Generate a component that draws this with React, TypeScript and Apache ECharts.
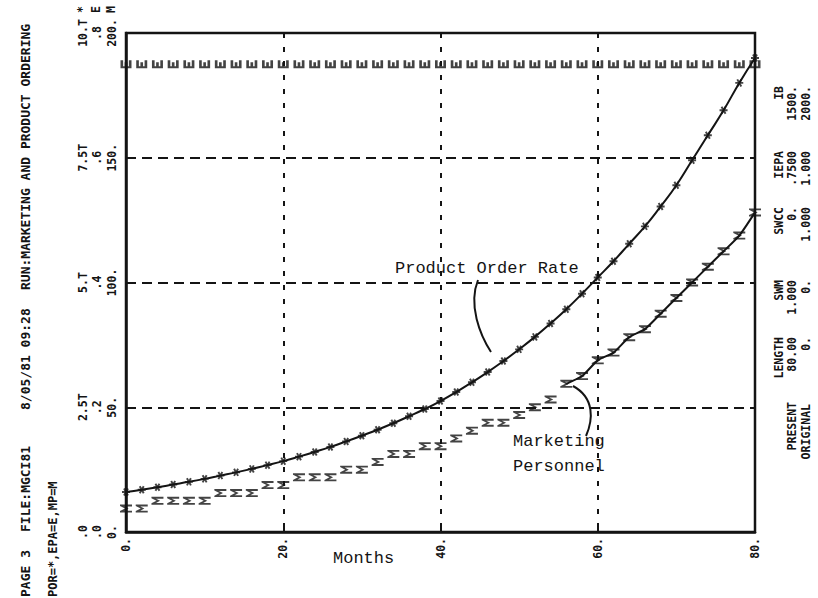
import React, { useEffect, useRef } from "react";
import * as echarts from "echarts";

// ---- data ----
const months = [0, 2, 4, 6, 8, 10, 12, 14, 16, 18, 20, 22, 24, 26, 28, 30, 32, 34, 36, 38, 40, 42, 44, 46, 48, 50, 52, 54, 56, 58, 60, 62, 64, 66, 68, 70, 72, 74, 76, 78, 80];
// Product Order Rate (POR, "*"), scale 0 .. 10.T
const porValues = [800, 845, 895, 950, 1005, 1065, 1130, 1195, 1265, 1340, 1420, 1510, 1605, 1705, 1815, 1930, 2050, 2180, 2320, 2465, 2625, 2805, 3000, 3205, 3425, 3660, 3910, 4180, 4465, 4775, 5100, 5425, 5775, 6125, 6525, 6950, 7450, 7950, 8450, 9000, 9500];
// Marketing Personnel (MP, "M"), scale 0 .. 200
const mpValues = [9.4, 9.4, 12.5, 12.5, 12.5, 12.5, 15.6, 15.6, 15.6, 18.8, 18.8, 21.9, 21.9, 21.9, 25.0, 25.0, 28.1, 31.3, 31.3, 34.4, 34.4, 37.5, 40.6, 43.8, 43.8, 46.9, 50.0, 53.1, 59.4, 62.5, 68.8, 71.9, 78.1, 81.3, 87.5, 93.8, 100.0, 106.3, 112.5, 118.8, 128.1];
// EPA ("E"), scale 0 .. .8
const epaValues = [0.75, 0.75, 0.75, 0.75, 0.75, 0.75, 0.75, 0.75, 0.75, 0.75, 0.75, 0.75, 0.75, 0.75, 0.75, 0.75, 0.75, 0.75, 0.75, 0.75, 0.75, 0.75, 0.75, 0.75, 0.75, 0.75, 0.75, 0.75, 0.75, 0.75, 0.75, 0.75, 0.75, 0.75, 0.75, 0.75, 0.75, 0.75, 0.75, 0.75, 0.75];
// first month from which the hand-drawn MP line is traced
const mpLineStartMonth = 56;

const monthTickLabels = ["0.", "20.", "40.", "60.", "80."];
const mpTickLabels = ["0.", "50.", "100.", "150.", "200."];
const epaTickLabels = [".0", ".2", ".4", ".6", ".8"];
const porTickLabels = [".0", "2.5T", "5.T", "7.5T", "10.T"];
const scaleSymbols = ["*", "E", "M"];

const tableHeaders = ["IB", "IEPA", "SWCC", "SWM", "LENGTH"];
const tablePresent = ["1500.", ".7500", "0.", "1.000", "80.00"];
const tableOriginal = ["2000.", "1.000", "1.000", "0.", "0."];
const tableRowLabels = ["PRESENT", "ORIGINAL"];

const headerTexts = ["PAGE 3", "FILE:MGCI81", "8/05/81 09:28", "RUN:MARKETING AND PRODUCT ORDERING"];
const legendText = "POR=*,EPA=E,MP=M";

// ---- glyph symbols (printer characters, rotated) ----
const ASTERISK =
  "path://M-5,-1.2L5,-1.2L5,1.2L-5,1.2Z M3.54,3.73L1.46,4.93L-3.54,-3.73L-1.46,-4.93Z M-1.46,4.93L-3.54,3.73L1.46,-4.93L3.54,-3.73Z";
const SIGMA = "path://M0,0L10,0L10,2.4L3.8,2.4L7.2,5L3.8,7.6L10,7.6L10,10L0,10L0,8.2L4.2,5L0,1.8Z";
const E_ROT = "path://M0,0L2.4,0L2.4,7.6L3.8,7.6L3.8,2.6L6.2,2.6L6.2,7.6L7.6,7.6L7.6,0L10,0L10,10L0,10Z";

const INK = "#141414";
const MONO = "'DejaVu Sans Mono', monospace";
const TYPE = "'Liberation Mono', 'Courier New', monospace";

export default function App() {
  const ref = useRef<HTMLDivElement>(null);

  useEffect(() => {
    if (!ref.current) return;
    const chart = echarts.init(ref.current, undefined, { renderer: "svg" });

    const por = months.map((m, i) => [m, porValues[i]]);
    const mp = months.map((m, i) => [m, mpValues[i]]);
    const epa = months.map((m, i) => [m, epaValues[i]]);
    const mpLine = mp.filter((p) => p[0] >= mpLineStartMonth);

    const smallFont = { fontFamily: MONO, fontWeight: "bold" as const, fontSize: 11.5, color: INK };

    const rotText = (text: string, x: number, y: number, align: string, size = 11.5) => ({
      type: "text",
      x,
      y,
      rotation: Math.PI / 2,
      style: {
        text,
        fill: INK,
        font: `bold ${size}px 'DejaVu Sans Mono', monospace`,
        align,
        verticalAlign: "middle",
      },
    });

    const graphics: any[] = [];
    // left header column
    const headerStarts = [597, 532, 410, 290];
    headerTexts.forEach((t, i) => graphics.push(rotText(t, 25, headerStarts[i], "left", 13)));
    graphics.push(rotText(legendText, 53, 597, "left", 12));
    // scale identifiers
    const symX = [82, 96, 111];
    scaleSymbols.forEach((s, i) => graphics.push(rotText(s, symX[i], 13, "left", 11.5)));
    // right-side table
    const tableTops = [86, 151, 207, 280, 337];
    tableHeaders.forEach((h, i) => {
      graphics.push(rotText(h, 779, tableTops[i], "right"));
      graphics.push(rotText(tablePresent[i], 792, tableTops[i], "right"));
      graphics.push(rotText(tableOriginal[i], 806, tableTops[i], "right"));
    });
    graphics.push(rotText(tableRowLabels[0], 792, 402, "right"));
    graphics.push(rotText(tableRowLabels[1], 806, 404, "right"));
    // typed annotations
    const ann = (text: string, x: number, y: number) => ({
      type: "text",
      x,
      y,
      style: { text, fill: INK, font: `17px ${TYPE}`, align: "left", verticalAlign: "middle" },
      z: 10,
    });
    graphics.push(ann("Product Order Rate", 395, 268));
    graphics.push(ann("Marketing", 513, 441));
    graphics.push(ann("Personnel", 513, 466));
    graphics.push(ann("Months", 333, 558));
    // hand-drawn pointers
    graphics.push({
      type: "bezierCurve",
      shape: { x1: 478, y1: 280, cpx1: 468, cpy1: 305, cpx2: 480, cpy2: 335, x2: 491, y2: 352 },
      style: { stroke: INK, lineWidth: 2, fill: null },
      z: 10,
    });
    graphics.push({
      type: "bezierCurve",
      shape: { x1: 573, y1: 386, cpx1: 595, cpy1: 398, cpx2: 593, cpy2: 420, x2: 586, y2: 436 },
      style: { stroke: INK, lineWidth: 2, fill: null },
      z: 10,
    });

    const option: any = {
      animation: false,
      backgroundColor: "#ffffff",
      grid: {
        left: 126,
        right: 63,
        top: 33,
        bottom: 66,
        show: true,
        borderColor: INK,
        borderWidth: 2.5,
        backgroundColor: "transparent",
      },
      xAxis: {
        type: "value",
        min: 0,
        max: 80,
        interval: 20,
        axisLine: { show: true, onZero: false, lineStyle: { color: INK, width: 2.5 } },
        axisTick: { show: true, inside: true, length: 4, lineStyle: { color: INK, width: 2 } },
        axisLabel: {
          ...smallFont,
          rotate: 90,
          margin: 6,
          formatter: (v: number) => monthTickLabels[Math.round(v / 20)] ?? "",
        },
        splitLine: { show: true, lineStyle: { color: INK, width: 2, type: [5, 9] } },
      },
      yAxis: [
        {
          type: "value",
          min: 0,
          max: 200,
          interval: 50,
          position: "left",
          axisLine: { show: true, onZero: false, lineStyle: { color: INK, width: 2.5 } },
          axisTick: { show: false },
          axisLabel: {
            ...smallFont,
            rotate: 90,
            margin: 8,
            formatter: (v: number) => mpTickLabels[Math.round(v / 50)] ?? "",
          },
          splitLine: { show: true, lineStyle: { color: INK, width: 2, type: [10, 6] } },
        },
        {
          type: "value",
          min: 0,
          max: 0.8,
          interval: 0.2,
          position: "left",
          offset: 15,
          axisLine: { show: false },
          axisTick: { show: false },
          axisLabel: {
            ...smallFont,
            rotate: 90,
            margin: 8,
            formatter: (v: number) => epaTickLabels[Math.round(v / 0.2)] ?? "",
          },
          splitLine: { show: false },
        },
        {
          type: "value",
          min: 0,
          max: 10000,
          interval: 2500,
          position: "left",
          offset: 29,
          axisLine: { show: false },
          axisTick: { show: false },
          axisLabel: {
            ...smallFont,
            rotate: 90,
            margin: 8,
            formatter: (v: number) => porTickLabels[Math.round(v / 2500)] ?? "",
          },
          splitLine: { show: false },
        },
      ],
      series: [
        {
          name: "Product Order Rate",
          type: "line",
          yAxisIndex: 2,
          data: por,
          smooth: true,
          symbol: "none",
          lineStyle: { color: INK, width: 2 },
          z: 5,
        },
        {
          name: "POR marks",
          type: "scatter",
          yAxisIndex: 2,
          data: por,
          symbol: ASTERISK,
          symbolSize: 8,
          itemStyle: { color: INK },
          z: 6,
        },
        {
          name: "Marketing Personnel",
          type: "line",
          yAxisIndex: 0,
          data: mpLine,
          smooth: 0.2,
          symbol: "none",
          lineStyle: { color: INK, width: 2 },
          z: 5,
        },
        {
          name: "MP marks",
          type: "scatter",
          yAxisIndex: 0,
          data: mp,
          symbol: SIGMA,
          symbolSize: [12, 8],
          itemStyle: { color: INK },
          z: 6,
        },
        {
          name: "EPA marks",
          type: "scatter",
          yAxisIndex: 1,
          data: epa,
          symbol: E_ROT,
          symbolSize: [11, 8],
          itemStyle: { color: INK },
          z: 6,
        },
      ],
      graphic: graphics,
    };

    chart.setOption(option);
    return () => chart.dispose();
  }, []);

  return (
    <div
      ref={ref}
      style={{ position: "fixed", left: 0, top: 0, width: 818, height: 598, background: "#fff" }}
    />
  );
}
